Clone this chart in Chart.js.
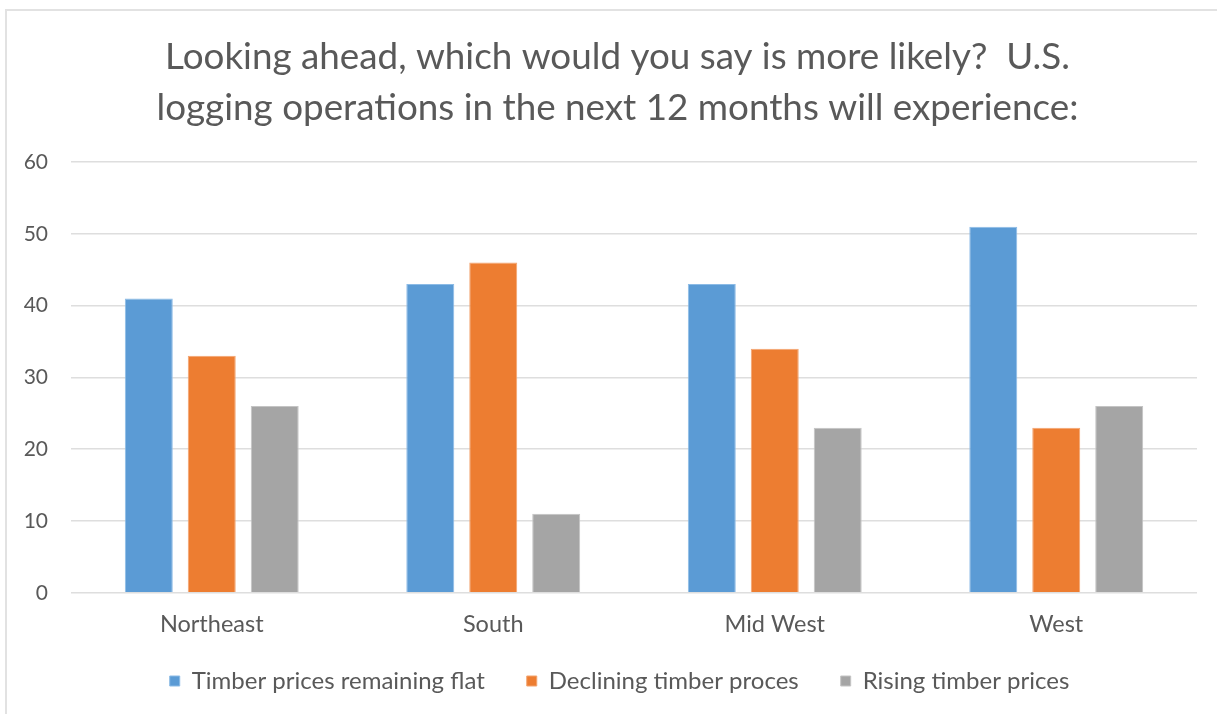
<!DOCTYPE html>
<html>
<head>
<meta charset="utf-8">
<script src="https://cdn.jsdelivr.net/npm/chart.js@4/dist/chart.umd.min.js"></script>
<style>
    html, body { margin: 0; padding: 0; background: #fff; }
    #wrap { position: relative; width: 1217px; height: 714px; overflow: hidden; }
    #frame {
        position: absolute; left: 5px; top: 9px; width: 1230px; height: 720px;
        border-left: 2px solid #e2e2e2; border-top: 2px solid #e2e2e2;
    }
    #chart { position: absolute; left: 0; top: 0; }
</style>
</head>
<body>
<div id="wrap">
    <div id="frame"></div>
    <canvas id="chart" width="1217" height="714"></canvas>
</div>
<script>
// Survey answers by region (percent of respondents)
const regions = ['Northeast', 'South', 'Mid West', 'West'];
const flatPrices = [41, 43, 43, 51];
const decliningPrices = [33, 46, 34, 23];
const risingPrices = [26, 11, 23, 26];
const seriesNames = ['Timber prices remaining flat', 'Declining timber proces', 'Rising timber prices'];
const yTicks = [0, 10, 20, 30, 40, 50, 60];

const FONT = 'Lato, "Open Sans", sans-serif';
const TEXT = '#595959';

function barSet(label, data, fill, edge) {
    return {
        label: label,
        data: data,
        backgroundColor: fill,
        borderColor: edge,
        borderWidth: 1,
        categoryPercentage: 0.671,
        barPercentage: 0.762
    };
}

// Center title and legend on the whole frame, and pull the legend row up
// (its padding also sets the gap between items)
const boxShift = {
    id: 'boxShift',
    afterLayout(chart) {
        const lg = chart.legend;
        if (lg) {
            lg.top -= 22; lg.bottom -= 22;
            lg.left += 21; lg.right += 21;
        }
        const tt = chart.titleBlock;
        if (tt) {
            tt.left += 19; tt.right += 19;
        }
    }
};

document.addEventListener('DOMContentLoaded', function() {
    const ctx = document.getElementById('chart').getContext('2d');
    new Chart(ctx, {
        type: 'bar',
        data: {
            labels: regions,
            datasets: [
                barSet(seriesNames[0], flatPrices, '#5B9BD5', '#8cbbe6'),
                barSet(seriesNames[1], decliningPrices, '#ED7D31', '#f3a46f'),
                barSet(seriesNames[2], risingPrices, '#A5A5A5', '#c4c4c4')
            ]
        },
        plugins: [boxShift],
        options: {
            responsive: false,
            animation: false,
            layout: { padding: { left: 0, right: 20, top: 0, bottom: -1 } },
            plugins: {
                title: {
                    display: true,
                    text: ['Looking ahead, which would you say is more likely?  U.S.',
                           'logging operations in the next 12 months will experience:'],
                    color: TEXT,
                    font: { family: FONT, size: 36.8, weight: 'normal', lineHeight: 1.386 },
                    padding: { top: 32, bottom: 28 }
                },
                legend: {
                    position: 'bottom',
                    maxHeight: 66,
                    labels: {
                        color: TEXT,
                        font: { family: FONT, size: 24 },
                        boxWidth: 10,
                        boxHeight: 10,
                        padding: 42
                    }
                },
                tooltip: { enabled: false }
            },
            scales: {
                x: {
                    grid: { display: false },
                    border: { display: false },
                    ticks: {
                        color: TEXT,
                        font: { family: FONT, size: 23.5 },
                        padding: 10
                    }
                },
                y: {
                    min: 0,
                    max: 60,
                    afterFit: function(scale) { scale.width = 71; },
                    afterBuildTicks: function(scale) {
                        scale.ticks = yTicks.map(v => ({ value: v }));
                    },
                    grid: { color: '#dedede', lineWidth: 1.5, drawTicks: false },
                    border: { display: false },
                    ticks: {
                        color: TEXT,
                        font: { family: FONT, size: 21 },
                        padding: 23
                    }
                }
            }
        }
    });
});
</script>
</body>
</html>
